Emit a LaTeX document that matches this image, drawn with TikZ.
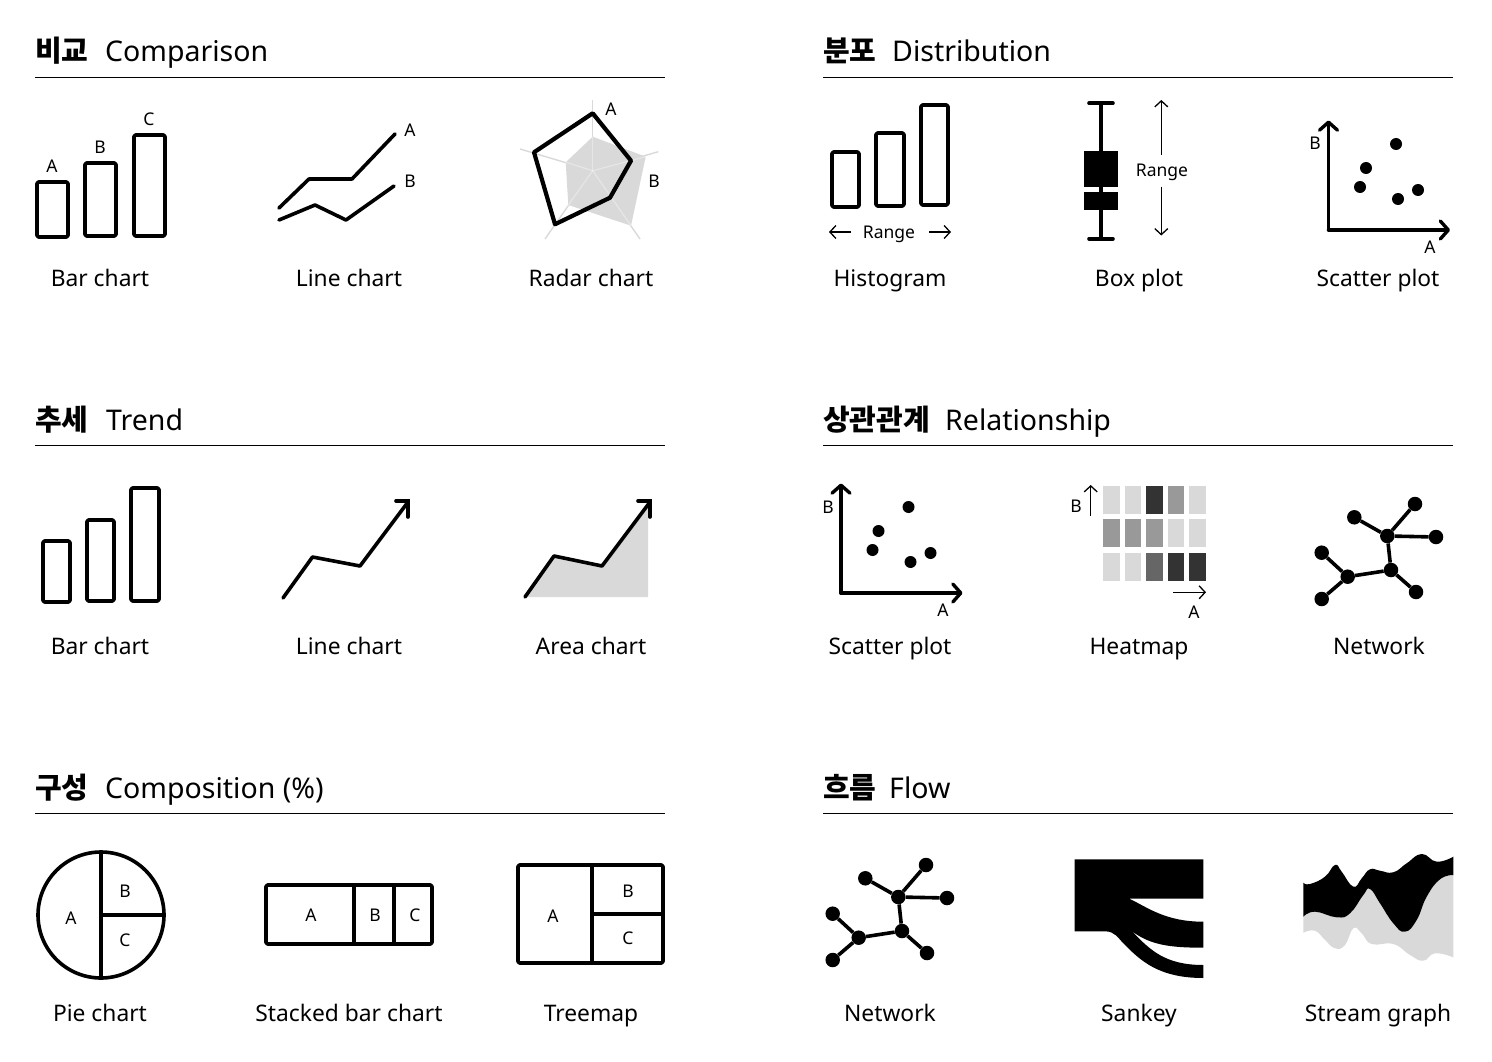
\documentclass[tikz,border=0pt]{standalone}
\usepackage{fontspec}
\setmainfont{Noto Sans}
\newfontfamily\kor{Noto Sans CJK KR}
\usetikzlibrary{arrows.meta}
\definecolor{lightcell}{HTML}{D9D9D9}
\definecolor{midcell}{HTML}{999999}
\definecolor{deepcell}{HTML}{666666}
\definecolor{darkcell}{HTML}{333333}
\tikzset{
  heading/.style={anchor=base west, inner sep=0pt, font=\kor\bfseries\fontsize{29}{34}\selectfont},
  headingen/.style={anchor=base west, inner sep=0pt, font=\fontsize{28.5}{34}\selectfont},
  caption/.style={anchor=base, inner sep=0pt, font=\fontsize{22.8}{27}\selectfont},
  tag/.style={anchor=base, inner sep=0pt, font=\fontsize{17.5}{20}\selectfont},
  rule/.style={line width=1.3pt},
  heavy/.style={line width=3.6pt, line join=round, line cap=round},
  thin arrow/.style={line width=1.3pt, -{Straight Barb[length=6pt,width=13pt,line width=1.3pt]}},
  heavy arrow/.style={heavy, -{Straight Barb[length=8pt,width=18pt,round,line width=3.4pt]}},
  hair/.style={line width=1.4pt, draw=lightcell},
  bar/.style={heavy, rounded corners=1.5pt},
  dot/.style={circle, fill=black, inner sep=0pt, minimum size=12pt},
  netdot/.style={circle, fill=black, inner sep=0pt, minimum size=14.5pt},
  edge/.style={line width=3.6pt},
}

\begin{document}
\begin{tikzpicture}[x=1pt, y=-1pt]
  \useasboundingbox (0,0) rectangle (1492,1062);

  % --- titoli ---
  \foreach \x/\y/\t/\u/\e [count=\i] in {
    35/62/비교/105/Comparison, 823/62/분포/892/Distribution,
    35/430/추세/106/Trend, 823/430/상관관계/945/Relationship,
    35/798/구성/105/Composition (\%), 823/798/흐름/889/Flow} {
    \node[heading] (head\i) at (\x,\y) {\t};
    \node[headingen] (headen\i) at (\u,\y) {\e};
    \coordinate (rulea\i) at (\x,\y+15.5);
    \coordinate (ruleb\i) at (\x+630,\y+15.5);
    \draw[rule] (rulea\i) -- (ruleb\i);
  }

  % --- didascalie ---
  \foreach \x/\y/\t [count=\i] in {
    100/286/Bar chart, 349/286/Line chart, 591/286/Radar chart,
    890/286/Histogram, 1139/286/Box plot, 1378/286/Scatter plot,
    100/654/Bar chart, 349/654/Line chart, 591/654/Area chart,
    890/654/Scatter plot, 1139/654/Heatmap, 1379/654/Network,
    100/1021/Pie chart, 349/1021/Stacked bar chart, 591/1021/Treemap,
    890/1021/Network, 1139/1021/Sankey, 1378/1021/Stream graph}
    \node[caption] (cap\i) at (\x,\y) {\t};

  % --- lettere ---
  \foreach \x/\y/\t [count=\i] in {
    52/173/A, 100/154/B, 149/126/C, 410/137/A, 410/187/B, 611/116/A, 654/187/B,
    1315/150/B, 1430/253/A, 828/513/B, 943/616/A, 1076/512/B, 1194/618/A,
    71/924/A, 125/897/B, 125/946/C, 311/921/A, 375/921/B, 415/921/C,
    553/922/A, 628/897/B, 628/944/C,
    889/238/Range, 1162/177/Range}
    \node[tag] (tag\i) at (\x,\y) {\t};

  % --- barre ---
  \foreach \xa/\ya/\xb/\yb in {
    37/182/68/237, 85/163/116/236, 134/135/165/236,
    832/152/859/207, 876/133/904/206, 921/105/948/205,
    43/541/70/602, 87/520/114/601, 131/488/159/601}
    \draw[bar] (\xa,\ya) rectangle (\xb,\yb);

  % --- linee ---
  \draw[heavy] (279,208) -- (309,179) -- (352,179) -- (395,134);
  \draw[heavy] (279,220) -- (315,205) -- (346,220) -- (394,186);
  \draw[heavy] (283,598) -- (312.5,557) -- (360,566) -- (408,502);
  \draw[heavy, line join=miter] (396,501) -- (408,501) -- (408,517);

  % --- radar ---
  \coordinate (radar) at (592.7,170.7);
  \foreach \x/\y in {592.7/100, 658.3/151.7, 640/239, 545/239, 520/149}
    \draw[hair] (radar) -- (\x,\y);
  \fill[lightcell] (592.7,136.7) -- (645.7,156.7) -- (631,225.7) -- (568.3,205) -- (565.7,162.3) -- cycle;
  \foreach \x/\y in {592.7/136.7, 645.7/156.7, 631/225.7, 568.3/205, 565.7/162.3}
    \draw[line width=1.2pt, draw=white, opacity=.35] (radar) -- (\x,\y);
  \draw[heavy, line width=4.2pt] (592.7,113.3) -- (631,160.7) -- (610,197.7) -- (555,224.3) -- (534,152.3) -- cycle;

  % --- area ---
  \fill[lightcell] (525,597) -- (554,556) -- (602,566) -- (648,503) -- (648,597) -- cycle;
  \draw[heavy] (525,597) -- (554,556) -- (602,566) -- (650,502);
  \draw[heavy, line join=miter] (638,501) -- (650,501) -- (650,517);

  % --- istogramma e box plot ---
  \draw[thin arrow] (851,232) -- (829,232);
  \draw[thin arrow] (929,232) -- (951,232);
  \draw[thin arrow] (1161.3,155) -- (1161.3,100);
  \draw[thin arrow] (1161.3,186.7) -- (1161.3,235.5);
  \draw[heavy] (1089,103.3) -- (1113,103.3);
  \draw[heavy] (1089,238.7) -- (1113,238.7);
  \draw[edge] (1100.7,103.3) -- (1100.7,238.7);
  \fill (1084,150.7) rectangle (1118,187.3);
  \fill (1084,192) rectangle (1118,210);

  % --- scatter, due volte ---
  \foreach \ox/\oy/\id in {0/0/sa, -487.5/363/sb} {
    \begin{scope}[shift={(\ox,\oy)}]
      \coordinate (\id top) at (1328.5,120.5);
      \coordinate (\id corner) at (1328.5,230);
      \coordinate (\id right) at (1450,230);
      \draw[heavy arrow] (\id corner) -- (\id top);
      \draw[heavy arrow] (\id corner) -- (\id right);
      \foreach \x/\y [count=\i] in {1396/144, 1366/168, 1360/187, 1398/199, 1418/190}
        \node[dot] (\id p\i) at (\x,\y) {};
    \end{scope}
  }

  % --- heatmap ---
  \foreach \ya/\yb/\ca/\cb/\cc/\cd/\ce in {
    486/514/lightcell/lightcell/darkcell/midcell/lightcell,
    519.3/547.3/midcell/midcell/midcell/lightcell/lightcell,
    552.7/580.7/lightcell/lightcell/deepcell/darkcell/darkcell} {
    \fill[\ca] (1103.3,\ya) rectangle (1120,\yb);
    \fill[\cb] (1125,\ya) rectangle (1141.3,\yb);
    \fill[\cc] (1146.3,\ya) rectangle (1162.7,\yb);
    \fill[\cd] (1167.7,\ya) rectangle (1184.3,\yb);
    \fill[\ce] (1189.3,\ya) rectangle (1205.7,\yb);
  }
  \draw[thin arrow] (1090.7,516) -- (1090.7,485);
  \draw[thin arrow] (1173,592.3) -- (1206,592.3);

  % --- network, due volte ---
  \foreach \ox/\oy/\id in {0/0/na, -489/361/nb} {
    \begin{scope}[shift={(\ox,\oy)}]
      \node[netdot] (\id top) at (1415,504) {};
      \node[netdot] (\id left) at (1354.3,517.3) {};
      \node[netdot] (\id hub) at (1387.3,536) {};
      \node[netdot] (\id right) at (1436,537) {};
      \node[netdot] (\id mid) at (1391,570) {};
      \node[netdot] (\id base) at (1347.7,576.7) {};
      \node[netdot] (\id up) at (1321.7,552.7) {};
      \node[netdot] (\id down) at (1321.7,599) {};
      \node[netdot] (\id low) at (1416,592) {};
      \draw[edge] (\id hub) -- (\id top);
      \draw[edge] (\id hub) -- (\id left);
      \draw[edge] (\id hub) -- (\id right);
      \draw[edge] (\id hub) -- (\id mid);
      \draw[edge] (\id mid) -- (\id base);
      \draw[edge] (\id mid) -- (\id low);
      \draw[edge] (\id base) -- (\id up);
      \draw[edge] (\id base) -- (\id down);
    \end{scope}
  }

  % --- torta, barra impilata, treemap ---
  \draw[heavy] (101,915) circle (63pt);
  \draw[heavy] (101,852) -- (101,978);
  \draw[heavy] (101,915) -- (164,915);
  \draw[bar] (266,885) rectangle (432,944);
  \draw[heavy] (354,885) -- (354,944);
  \draw[heavy] (394,885) -- (394,944);
  \draw[bar] (518,865) rectangle (663,963);
  \draw[heavy] (592,865) -- (592,963);
  \draw[heavy] (592,914) -- (663,914);

  % --- sankey ---
  \fill (1074.7,859.3) -- (1203.3,859.3) -- (1203.3,898.7) -- (1129.3,898.7)
    .. controls (1147,907) and (1165,921.7) .. (1203.3,921.7)
    -- (1203.3,947.7)
    .. controls (1170,947.7) and (1150,945) .. (1131.7,931)
    .. controls (1150,950) and (1165,965) .. (1203.3,965)
    -- (1203.3,978)
    .. controls (1158,978) and (1140,960) .. (1124,944)
    .. controls (1118,938) and (1115,931.3) .. (1105,931.3)
    -- (1074.7,931.3) -- cycle;

  % --- stream graph ---
  \fill[lightcell] plot[smooth, tension=.8] coordinates {(1303.3,916.7) (1315,911.7) (1336.7,917.3) (1350,913.3) (1363.3,895) (1370,889) (1380,903.3) (1393.3,923.3) (1405,931.7) (1416.7,920) (1426.7,896.7) (1440,879.3) (1453.3,875)}
    -- plot[smooth, tension=.8] coordinates {(1453.3,957.3) (1435,953.3) (1423.3,960.7) (1410,955) (1393.3,944) (1371.7,944) (1361.7,933.3) (1353.3,928.3) (1345,945) (1335,948.3) (1325,940) (1315,930.7) (1303.3,932.7)} -- cycle;
  \fill plot[smooth, tension=.8] coordinates {(1303.3,882.7) (1310,884) (1325,876.7) (1335,865) (1341.7,871.7) (1353.3,886.7) (1361.7,878.3) (1370,869.3) (1380,870.7) (1393.3,872.3) (1406.7,863.3) (1421.7,854) (1436.7,861.7) (1453.3,856.7)}
    -- plot[smooth, tension=.8] coordinates {(1453.3,875) (1440,879.3) (1426.7,896.7) (1416.7,920) (1405,931.7) (1393.3,923.3) (1380,903.3) (1370,889) (1363.3,895) (1350,913.3) (1336.7,917.3) (1315,911.7) (1303.3,916.7)} -- cycle;
\end{tikzpicture}
\end{document}
